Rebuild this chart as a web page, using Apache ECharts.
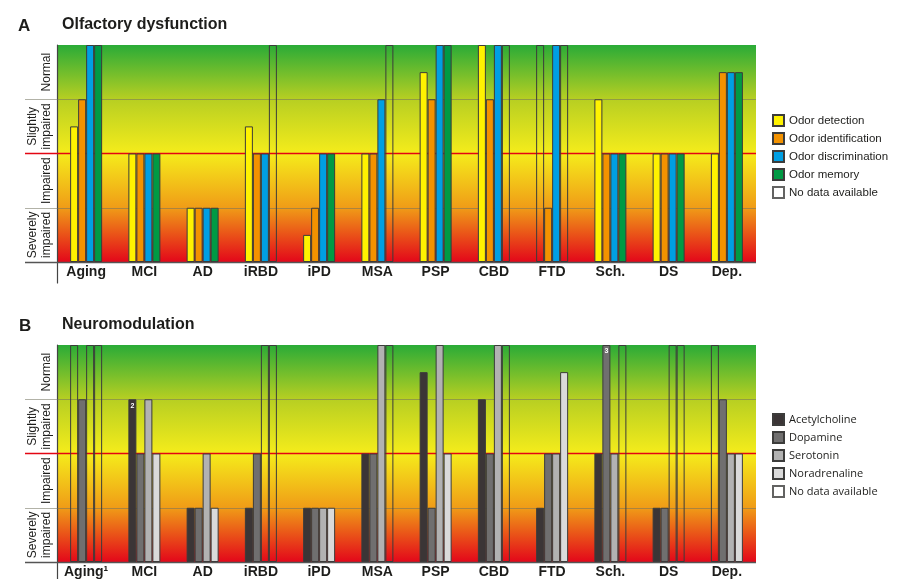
<!DOCTYPE html>
<html>
<head>
<meta charset="utf-8">
<script src="https://cdn.jsdelivr.net/npm/echarts@6/dist/echarts.min.js"></script>
<style>
html,body{margin:0;padding:0;background:#fff;}
#chart{width:900px;height:579px;}
</style>
</head>
<body>
<div id="chart"></div>
<script>
// ---------- data ----------
const categoriesA = ['Aging','MCI','AD','iRBD','iPD','MSA','PSP','CBD','FTD','Sch.','DS','Dep.'];
const categoriesB = ['Aging\u00b9','MCI','AD','iRBD','iPD','MSA','PSP','CBD','FTD','Sch.','DS','Dep.'];
const levelLabels = ['Severely\nimpaired','Impaired','Slightly\nimpaired','Normal'];
const baselineLevel = [0];
const bandLevels = [1, 3];
const thresholdLevel = [2];   // threshold of impairment (red line)
// scale: 0 = bottom, 4 = top (Normal); null = no data available
const odorDetection      = [2.5, 2, 1, 2.5, 0.5, 2, 3.5, 4, null, 3, 2, 2];
const odorIdentification = [3, 2, 1, 2, 1, 2, 3, 3, 1, 2, 2, 3.5];
const odorDiscrimination = [4, 2, 1, 2, 2, 3, 4, 4, 4, 2, 2, 3.5];
const odorMemory         = [4, 2, 1, null, 2, null, 4, null, null, 2, 2, 3.5];

const acetylcholine = [null, 3, 1, 1, 1, 2, 3.5, 3, 1, 2, 1, null];
const dopamine      = [3, 2, 1, 2, 1, 2, 1, 2, 2, 4, 1, 3];
const serotonin     = [null, 3, 2, null, 1, 4, 4, 4, 2, 2, null, 2];
const noradrenaline = [null, 2, 1, null, 1, null, 2, null, 3.5, null, null, 2];
const acetylcholineNotes = [null, '2', null, null, null, null, null, null, null, null, null, null];
const dopamineNotes      = [null, null, null, null, null, null, null, null, null, '3', null, null];

const SCALE_MAX = 4;

// ---------- chart ----------
const FONT = '"Liberation Sans", Arial, sans-serif';
const BORDER = '#3c3c3b';
const chart = echarts.init(document.getElementById('chart'), null, {renderer: 'canvas'});

function bgGradient() {
  return new echarts.graphic.LinearGradient(0, 0, 0, 1, [
    {offset: 0, color: '#2aab37'},
    {offset: 0.25, color: '#b7cf22'},
    {offset: 0.5, color: '#f5ec1b'},
    {offset: 0.75, color: '#f09c17'},
    {offset: 1, color: '#e3071a'}
  ]);
}

function buildData(vals, notes) {
  return vals.map((v, i) => {
    if (v == null) {
      return {value: SCALE_MAX, itemStyle: {color: 'rgba(0,0,0,0)'}};
    }
    const item = {value: v};
    if (notes && notes[i]) {
      item.label = {show: true, formatter: notes[i], position: 'insideTop', distance: 3,
        fontSize: 7, fontWeight: 'bold', color: '#ffffff', fontFamily: FONT};
    }
    return item;
  });
}

const panels = [
  {top: 45, cats: categoriesA},
  {top: 345, cats: categoriesB}
];
const H = 217;
const grids = [], xAxes = [], yAxes = [];
panels.forEach((p, k) => {
  grids.push({left: 57, right: 144, top: p.top, height: H, show: true,
    backgroundColor: bgGradient(), borderWidth: 0, z: 0});
  grids.push({left: 25, right: 144, top: p.top, height: H, show: false});
  grids.push({left: 57, width: 10, top: p.top, height: H + 21, show: false});
  const g = k * 3;
  xAxes.push({type: 'category', gridIndex: g, data: p.cats,
    axisLine: {show: false}, axisTick: {show: false}, splitLine: {show: false},
    axisLabel: {interval: 0, margin: 3, fontSize: 14, fontWeight: 'bold', color: '#1d1d1b', fontFamily: FONT}});
  xAxes.push({type: 'value', gridIndex: g + 1, min: 0, max: 1, show: false});
  xAxes.push({type: 'value', gridIndex: g + 2, min: 0, max: 1, show: false});
  yAxes.push({type: 'value', gridIndex: g, min: 0, max: SCALE_MAX, interval: 1,
    axisLine: {show: false}, axisTick: {show: false}, axisLabel: {show: false}, splitLine: {show: false}});
  yAxes.push({type: 'category', gridIndex: g, data: levelLabels, position: 'left', offset: 0,
    axisLine: {show: false}, axisTick: {show: false}, splitLine: {show: false},
    axisLabel: {interval: 0, hideOverlap: false, rotate: 90, margin: 3, fontSize: 12, lineHeight: 14,
      color: '#1d1d1b', fontFamily: FONT}});
  yAxes.push({type: 'value', gridIndex: g + 1, min: 0, max: SCALE_MAX, interval: 1, show: false});
  yAxes.push({type: 'value', gridIndex: g + 2, min: 0, max: 1, position: 'left',
    axisLine: {show: true, lineStyle: {color: '#444', width: 1.2}}, axisTick: {show: false},
    axisLabel: {show: false}, splitLine: {show: false}});
});

function barSeries(name, vals, color, panel, notes) {
  return {
    name: name, type: 'bar', xAxisIndex: panel * 3, yAxisIndex: panel * 4,
    data: buildData(vals, notes), barWidth: 8, barGap: '0%', z: 3,
    itemStyle: {color: color, borderColor: BORDER, borderWidth: 1},
    emphasis: {disabled: true}, animation: false
  };
}
function noDataSeries(panel) {
  return {name: 'No data available', type: 'scatter', xAxisIndex: panel * 3, yAxisIndex: panel * 4,
    data: [], itemStyle: {color: '#ffffff', borderColor: BORDER, borderWidth: 1}, animation: false};
}
function levelLineSeries(panel, levels, color, width) {
  return {type: 'line', xAxisIndex: panel * 3 + 1, yAxisIndex: panel * 4 + 2,
    data: [], z: 1, silent: true, animation: false, color: color,
    markLine: {z: 1, symbol: ['none', 'none'], silent: true, animation: false, label: {show: false},
      emphasis: {disabled: true},
      lineStyle: {type: 'solid', width: width, color: color, opacity: 1},
      data: levels.map(v => ({yAxis: v}))}};
}

const series = [
  levelLineSeries(0, baselineLevel, '#555555', 1.3),
  levelLineSeries(0, bandLevels, 'rgba(115,115,95,0.55)', 1.2),
  levelLineSeries(0, thresholdLevel, '#e30613', 1.3),
  barSeries('Odor detection', odorDetection, '#fff200', 0),
  barSeries('Odor identification', odorIdentification, '#f39200', 0),
  barSeries('Odor discrimination', odorDiscrimination, '#009fe3', 0),
  barSeries('Odor memory', odorMemory, '#009a44', 0),
  noDataSeries(0),
  levelLineSeries(1, baselineLevel, '#555555', 1.3),
  levelLineSeries(1, bandLevels, 'rgba(115,115,95,0.55)', 1.2),
  levelLineSeries(1, thresholdLevel, '#e30613', 1.3),
  barSeries('Acetylcholine', acetylcholine, '#3b3536', 1, acetylcholineNotes),
  barSeries('Dopamine', dopamine, '#706f6f', 1, dopamineNotes),
  barSeries('Serotonin', serotonin, '#b2b2b2', 1),
  barSeries('Noradrenaline', noradrenaline, '#dadada', 1),
  noDataSeries(1)
];

const legendCommon = {orient: 'vertical', left: 767, icon: 'rect', itemWidth: 11, itemHeight: 11,
  itemGap: 5, selectedMode: false};

chart.setOption({
  animation: false,
  title: [
    {text: 'A', left: 13, top: 13, textStyle: {fontSize: 17, fontWeight: 'bold', color: '#1d1d1b', fontFamily: FONT}},
    {text: 'Olfactory dysfunction', left: 57, top: 12, textStyle: {fontSize: 16, fontWeight: 'bold', color: '#1d1d1b', fontFamily: FONT}},
    {text: 'B', left: 14, top: 313, textStyle: {fontSize: 17, fontWeight: 'bold', color: '#1d1d1b', fontFamily: FONT}},
    {text: 'Neuromodulation', left: 57, top: 312, textStyle: {fontSize: 16, fontWeight: 'bold', color: '#1d1d1b', fontFamily: FONT}}
  ],
  legend: [
    Object.assign({}, legendCommon, {top: 109,
      data: ['Odor detection','Odor identification','Odor discrimination','Odor memory','No data available'],
      textStyle: {fontSize: 11.5, color: '#1d1d1b', fontFamily: FONT}}),
    Object.assign({}, legendCommon, {top: 408,
      data: ['Acetylcholine','Dopamine','Serotonin','Noradrenaline','No data available'],
      textStyle: {fontSize: 11, color: '#1d1d1b', fontFamily: '"Open Sans", "Noto Sans", sans-serif'}})
  ],
  grid: grids,
  xAxis: xAxes,
  yAxis: yAxes,
  series: series
});
</script>
</body>
</html>
